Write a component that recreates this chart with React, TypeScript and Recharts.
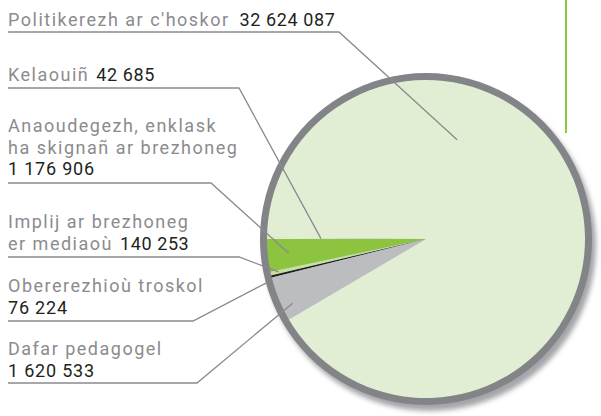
import React from "react";
import { PieChart, Pie, Cell } from "recharts";

// Budget breakdown (euros), in drawing order starting at 9 o'clock
const categories = [
  "Anaoudegezh, enklask ha skignañ ar brezhoneg",
  "Implij ar brezhoneg er mediaoù",
  "Obererezhioù troskol",
  "Dafar pedagogel",
  "Politikerezh ar c'hoskor",
  "Kelaouiñ",
];
const values = [1176906, 140253, 76224, 1620533, 32624087, 42685];
const labelLines = [
  ["Anaoudegezh, enklask", "ha skignañ ar brezhoneg"],
  ["Implij ar brezhoneg", "er mediaoù"],
  ["Obererezhioù troskol"],
  ["Dafar pedagogel"],
  ["Politikerezh ar c'hoskor"],
  ["Kelaouiñ"],
];
const numberInline = [false, true, false, false, true, true];

const COLORS = ["#8cc43f", "#c4e0a0", "#1d1d1b", "#bcbdc1", "#e2eed4", "#e2eed4"];
const NAME_COLOR = "#8b8b8e";
const NUM_COLOR = "#231f20";
const LINE_COLOR = "#8a8a8d";
const FONT = "Roboto, 'DejaVu Sans', sans-serif";

// label placement: first baseline, underline y, elbow x, anchor inside the pie
const LABEL_LAYOUT = [
  { y: 132, lineY: 183, elbowX: 211, r: 138 },
  { y: 228, lineY: 257, elbowX: 239, r: 151, gap: 7 },
  { y: 292, lineY: 321, elbowX: 193, r: 166, angle: 195.4 },
  { y: 355, lineY: 383, elbowX: 197, r: 148, angle: 205.7 },
  { y: 26, lineY: 32, elbowX: 339, r: 104, angle: 72.6, gap: 10 },
  { y: 81, lineY: 88, elbowX: 239, r: 105, gap: 7 },
];
const LINE_H = 21.5;

const data = categories.map((name, i) => ({ name, value: values[i] }));

const fmt = (v: number) => v.toString().replace(/\B(?=(\d{3})+(?!\d))/g, " ");

const RADIAN = Math.PI / 180;

function renderLabel(props: any) {
  const { cx, cy, midAngle, index } = props;
  const lay = LABEL_LAYOUT[index];
  if (!lay) return null;
  const a = lay.angle ?? midAngle;
  const ax = cx + lay.r * Math.cos(-a * RADIAN);
  const ay = cy + lay.r * Math.sin(-a * RADIAN);
  const lines = labelLines[index];
  const num = fmt(values[index]);
  return (
    <g key={`lbl-${index}`}>
      {lines.map((ln, j) => {
        const last = j === lines.length - 1;
        return (
          <text
            key={j}
            x={8}
            y={lay.y + j * LINE_H}
            fontFamily={FONT}
            fontSize={18}
            fill={NAME_COLOR}
            letterSpacing={1.5}
          >
            {ln}
            {last && numberInline[index] ? (
              <tspan fill={NUM_COLOR} letterSpacing={0.6} dx={lay.gap}>
                {num}
              </tspan>
            ) : null}
          </text>
        );
      })}
      {!numberInline[index] ? (
        <text
          x={8}
          y={lay.y + lines.length * LINE_H}
          fontFamily={FONT}
          fontSize={18}
          fill={NUM_COLOR}
          letterSpacing={0.8}
        >
          {num}
        </text>
      ) : null}
      <polyline
        points={`8,${lay.lineY} ${lay.elbowX},${lay.lineY} ${ax},${ay}`}
        fill="none"
        stroke={LINE_COLOR}
        strokeWidth={1.3}
      />
    </g>
  );
}

export default function App() {
  const cx = 426;
  const cy = 239;
  return (
    <div style={{ position: "absolute", left: 0, top: 0, width: 601, height: 416, background: "#fff" }}>
      <PieChart width={601} height={416} margin={{ top: 0, right: 0, bottom: 0, left: 0 }}>
        <defs>
          <filter id="shadowBlur" x="-20%" y="-20%" width="140%" height="140%">
            <feGaussianBlur stdDeviation="2.5" />
          </filter>
        </defs>
        {/* drop shadow */}
        <Pie
          data={[{ name: "shadow", value: 1 }]}
          dataKey="value"
          cx={cx + 4}
          cy={cy + 6}
          outerRadius={166}
          isAnimationActive={false}
          stroke="none"
        >
          <Cell fill="#a4a5a9" filter="url(#shadowBlur)" />
        </Pie>
        {/* outer ring */}
        <Pie
          data={[{ name: "ring", value: 1 }]}
          dataKey="value"
          cx={cx}
          cy={cy}
          innerRadius={158}
          outerRadius={166}
          isAnimationActive={false}
          stroke="none"
        >
          <Cell fill="#838488" />
        </Pie>
        <Pie
          data={data}
          dataKey="value"
          nameKey="name"
          cx={cx}
          cy={cy}
          outerRadius={159}
          startAngle={180}
          endAngle={540}
          isAnimationActive={false}
          stroke="none"
          labelLine={false}
          label={renderLabel}
        >
          {data.map((d, i) => (
            <Cell key={d.name} fill={COLORS[i]} stroke="none" />
          ))}
        </Pie>
        <line x1={566} y1={0} x2={566} y2={133} stroke="#8dc63f" strokeWidth={2} />
      </PieChart>
    </div>
  );
}
